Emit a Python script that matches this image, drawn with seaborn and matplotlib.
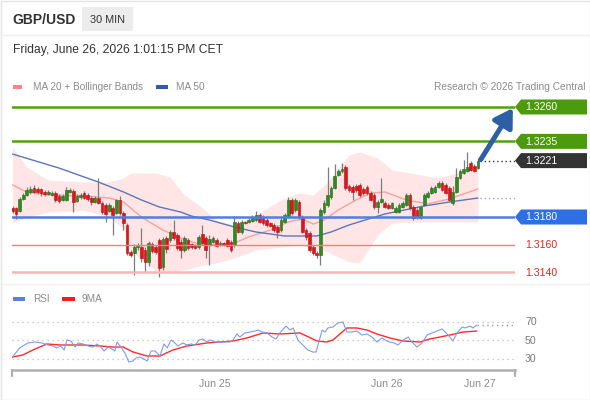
import matplotlib
matplotlib.use("Agg")
import matplotlib.pyplot as plt
from matplotlib.patches import Rectangle, Polygon
import numpy as np
import seaborn as sns

# ---- candle data (30 min GBP/USD) ----
opens = [1.31865, 1.31865, 1.31844, 1.31931, 1.31960, 1.31982, 1.32011, 1.32004, 1.32004, 1.31982,
         1.31967, 1.31960, 1.31974, 1.31953, 1.31924, 1.31924, 1.31982, 1.31989, 1.31916, 1.31945,
         1.31974, 1.31960, 1.31938, 1.31909, 1.31938, 1.31902, 1.31887, 1.31844, 1.31865, 1.31829,
         1.31924, 1.31829, 1.31742, 1.31546, 1.31538, 1.31582, 1.31582, 1.31560, 1.31473, 1.31604,
         1.31582, 1.31633, 1.31436, 1.31647, 1.31633, 1.31691, 1.31669, 1.31618, 1.31560, 1.31633,
         1.31604, 1.31596, 1.31582, 1.31676, 1.31647, 1.31596, 1.31618, 1.31633, 1.31604, 1.31611,
         1.31633, 1.31618, 1.31596, 1.31756, 1.31691, 1.31764, 1.31764, 1.31771, 1.31778, 1.31815,
         1.31800, 1.31778, 1.31756, 1.31742, 1.31727, 1.31705, 1.31764, 1.31800, 1.31924, 1.31851,
         1.31909, 1.31800, 1.31705, 1.31684, 1.31582, 1.31538, 1.31524, 1.31836, 1.31887, 1.31945,
         1.32011, 1.32105, 1.32134, 1.32164, 1.32025, 1.32018, 1.32025, 1.32033, 1.32004, 1.32018,
         1.31974, 1.31960, 1.31873, 1.31909, 1.31902, 1.31887, 1.31865, 1.31836, 1.31836, 1.31873,
         1.31887, 1.31960, 1.31873, 1.31851, 1.31793, 1.31887, 1.31945, 1.31974, 1.31982, 1.32018,
         1.32047, 1.32033, 1.32011, 1.31902, 1.31982, 1.32084, 1.32120, 1.32134, 1.32193, 1.32171,
         1.32156]
highs = [1.31880, 1.31873, 1.31945, 1.31974, 1.32018, 1.32025, 1.32033, 1.32018, 1.32011, 1.31996,
         1.31996, 1.31989, 1.31989, 1.31967, 1.31967, 1.32018, 1.32011, 1.32004, 1.31967, 1.31974,
         1.31989, 1.31974, 1.31953, 1.31953, 1.32084, 1.31916, 1.31902, 1.31902, 1.31880, 1.31931,
         1.31953, 1.31844, 1.31756, 1.31560, 1.31604, 1.31611, 1.31720, 1.31582, 1.31625, 1.31618,
         1.31596, 1.31647, 1.31655, 1.31662, 1.31705, 1.31778, 1.31684, 1.31640, 1.31662, 1.31647,
         1.31611, 1.31604, 1.31669, 1.31742, 1.31662, 1.31669, 1.31662, 1.31647, 1.31625, 1.31618,
         1.31647, 1.31633, 1.31807, 1.31771, 1.31778, 1.31771, 1.31793, 1.31815, 1.31844, 1.31829,
         1.31815, 1.31793, 1.31764, 1.31756, 1.31742, 1.31793, 1.31829, 1.31945, 1.31938, 1.31938,
         1.31924, 1.31815, 1.31720, 1.31698, 1.31596, 1.31553, 1.31865, 1.31924, 1.32164, 1.32025,
         1.32185, 1.32149, 1.32193, 1.32178, 1.32040, 1.32033, 1.32040, 1.32047, 1.32018, 1.32033,
         1.31989, 1.31974, 1.31924, 1.32084, 1.31916, 1.31902, 1.31909, 1.31880, 1.31902, 1.31916,
         1.31974, 1.31974, 1.31887, 1.31865, 1.31887, 1.31974, 1.31989, 1.32025, 1.32033, 1.32062,
         1.32062, 1.32047, 1.32025, 1.32025, 1.32156, 1.32149, 1.32214, 1.32273, 1.32207, 1.32185,
         1.32229]
lows = [1.31829, 1.31785, 1.31836, 1.31924, 1.31953, 1.31967, 1.31974, 1.31967, 1.31953, 1.31953,
        1.31960, 1.31953, 1.31909, 1.31902, 1.31916, 1.31916, 1.31974, 1.31836, 1.31909, 1.31931,
        1.31931, 1.31916, 1.31887, 1.31902, 1.31895, 1.31822, 1.31764, 1.31836, 1.31669, 1.31822,
        1.31815, 1.31705, 1.31524, 1.31509, 1.31378, 1.31560, 1.31473, 1.31400, 1.31444, 1.31538,
        1.31531, 1.31364, 1.31415, 1.31538, 1.31618, 1.31633, 1.31560, 1.31502, 1.31546, 1.31560,
        1.31567, 1.31567, 1.31567, 1.31596, 1.31502, 1.31451, 1.31611, 1.31582, 1.31589, 1.31589,
        1.31582, 1.31546, 1.31582, 1.31684, 1.31676, 1.31749, 1.31756, 1.31764, 1.31771, 1.31756,
        1.31742, 1.31727, 1.31727, 1.31691, 1.31647, 1.31691, 1.31756, 1.31793, 1.31815, 1.31836,
        1.31785, 1.31684, 1.31633, 1.31546, 1.31524, 1.31502, 1.31451, 1.31822, 1.31873, 1.31931,
        1.32004, 1.32098, 1.32120, 1.31996, 1.31982, 1.31924, 1.31982, 1.31945, 1.31960, 1.31960,
        1.31916, 1.31858, 1.31829, 1.31902, 1.31865, 1.31858, 1.31858, 1.31829, 1.31829, 1.31865,
        1.31880, 1.31851, 1.31778, 1.31785, 1.31785, 1.31880, 1.31938, 1.31967, 1.31974, 1.32011,
        1.31989, 1.31967, 1.31916, 1.31887, 1.31974, 1.32076, 1.32113, 1.32127, 1.32134, 1.32127,
        1.32149]
closes = [1.31844, 1.31822, 1.31931, 1.31960, 1.31996, 1.32004, 1.31982, 1.31982, 1.31974, 1.31967,
          1.31982, 1.31974, 1.31924, 1.31916, 1.31953, 1.31996, 1.31996, 1.31909, 1.31953, 1.31960,
          1.31938, 1.31931, 1.31909, 1.31938, 1.31902, 1.31836, 1.31822, 1.31887, 1.31815, 1.31924,
          1.31829, 1.31756, 1.31538, 1.31524, 1.31582, 1.31589, 1.31502, 1.31473, 1.31611, 1.31553,
          1.31546, 1.31429, 1.31640, 1.31567, 1.31691, 1.31647, 1.31575, 1.31560, 1.31647, 1.31575,
          1.31582, 1.31575, 1.31655, 1.31611, 1.31560, 1.31640, 1.31647, 1.31589, 1.31611, 1.31596,
          1.31589, 1.31560, 1.31764, 1.31691, 1.31764, 1.31756, 1.31778, 1.31793, 1.31815, 1.31764,
          1.31756, 1.31742, 1.31735, 1.31705, 1.31691, 1.31778, 1.31815, 1.31924, 1.31829, 1.31924,
          1.31800, 1.31691, 1.31655, 1.31560, 1.31538, 1.31524, 1.31851, 1.31902, 1.31960, 1.32011,
          1.32098, 1.32134, 1.32149, 1.32011, 1.31996, 1.31982, 1.31996, 1.31960, 1.31974, 1.31974,
          1.31924, 1.31873, 1.31909, 1.31931, 1.31873, 1.31865, 1.31902, 1.31865, 1.31887, 1.31902,
          1.31960, 1.31865, 1.31793, 1.31800, 1.31873, 1.31960, 1.31974, 1.32011, 1.32018, 1.32047,
          1.31996, 1.31974, 1.31924, 1.31982, 1.32091, 1.32134, 1.32149, 1.32164, 1.32142, 1.32134,
          1.32210]

# moving averages and bollinger bands (candle index, price)
ma20_idx = [0, 4, 10, 20, 27, 31, 36, 42, 47, 52, 57, 62, 66, 72, 77, 81, 84, 87, 91, 96, 100, 104, 110, 116, 122, 130]
ma20 = [1.32033, 1.31982, 1.31960, 1.31953, 1.31938, 1.31909, 1.31800, 1.31705, 1.31647, 1.31604,
        1.31596, 1.31611, 1.31655, 1.31705, 1.31764, 1.31785, 1.31749, 1.31778, 1.31851, 1.31924,
        1.31974, 1.31982, 1.31924, 1.31895, 1.31931, 1.32004]
ma50_idx = [0, 13, 24, 31, 36, 41, 47, 50, 55, 62, 68, 76, 85, 89, 94, 104, 115, 122, 130]
ma50 = [1.32258, 1.32156, 1.32054, 1.31982, 1.31924, 1.31873, 1.31836, 1.31807, 1.31778, 1.31727,
        1.31691, 1.31662, 1.31662, 1.31691, 1.31742, 1.31822, 1.31880, 1.31909, 1.31938]
bb_idx = [0, 4, 10, 20, 27, 31, 33, 40, 44, 48, 52, 57, 62, 68, 75, 80, 84, 88, 94, 97, 102, 106, 111, 119, 125, 130]
bb_upper = [1.32309, 1.32164, 1.32069, 1.32054, 1.32054, 1.32084, 1.32120, 1.32120, 1.32091, 1.31960,
            1.31887, 1.31778, 1.31742, 1.31815, 1.31924, 1.31974, 1.31960, 1.32054, 1.32251, 1.32273,
            1.32229, 1.32142, 1.32120, 1.32084, 1.32127, 1.32178]
bb_lower = [1.31756, 1.31800, 1.31836, 1.31851, 1.31800, 1.31720, 1.31560, 1.31407, 1.31393, 1.31415,
            1.31444, 1.31466, 1.31502, 1.31560, 1.31582, 1.31596, 1.31575, 1.31546, 1.31473, 1.31466,
            1.31669, 1.31756, 1.31764, 1.31764, 1.31764, 1.31764]

# RSI panel
rsi_idx = [0, 2, 4.3, 6.3, 8.2, 9.9, 11.3, 12.4, 13.5, 14.4, 15.2, 16.3, 17.5, 18.3, 19.7, 21.1, 22.5,
           23.6, 24.4, 25.6, 26.7, 27.8, 28.6, 29.2, 30.3, 31.4, 32.5, 33.7, 34.5, 35.6, 36.7, 37.6,
           38.7, 39.8, 41.2, 42.3, 43.2, 44.3, 45.1, 46.2, 47.6, 48.7, 49.9, 51, 52.1, 53.2, 54.3,
           55.2, 56.6, 58, 59.4, 60.8, 61.6, 62.7, 63.5, 64.9, 66.3, 67.7, 68.6, 69.7, 71.1, 72.5,
           73.6, 74.7, 76.4, 77.5, 78.4, 79.7, 81.1, 82.5, 83.9, 84.8, 86.5, 87.3, 88.1, 89.5, 90.9,
           92.3, 93.4, 94.8, 96.2, 97.6, 99, 100.4, 101.8, 103.2, 104.6, 105.4, 106.6, 107.7, 109.1,
           110.5, 111.6, 113, 114.4, 115.8, 117.2, 118.6, 120, 121.4, 123, 124.2, 125.6, 126.4, 127.8,
           128.6, 129.7]
rsi = [31.6, 41.4, 46.8, 47.8, 46.8, 44.6, 43.5, 41.4, 43.5, 39.2, 50, 48.9, 42.4, 46.8, 45.7, 43.5, 42.4,
       45.7, 43.5, 38.1, 42.4, 40.3, 38.1, 47.8, 42.4, 35.9, 26.2, 27.3, 30.5, 31.6, 29.5, 27.3,
       38.1, 38.1, 32.7, 45.7, 41.4, 50, 47.8, 43.5, 46.8, 44.6, 45.7, 44.6, 50, 51.1, 47.8,
       50, 47.8, 47.8, 47.8, 47.8, 50, 56.5, 53.2, 57.6, 58.6, 59.7, 60.8, 58.6, 57.6, 53.2,
       51.1, 57.6, 65.1, 60.8, 63, 50, 44.6, 39.2, 37, 37, 60.8, 58.6, 63, 64.1, 68.4,
       69.5, 58.6, 58.6, 59.7, 55.4, 56.5, 53.2, 47.8, 52.2, 48.9, 47.8, 46.8, 44.6, 50,
       53.2, 47.8, 42.4, 46.8, 55.4, 57.6, 59.7, 61.9, 56.5, 48.9, 57.6, 64.1, 63, 65.1,
       63, 66.2]
rsi_ma_idx = [0, 2.9, 5.7, 9.6, 13.3, 19.7, 24.4, 28.1, 30.9, 33.7, 37.6, 41.2, 44.8, 48.7, 54.3, 61.6,
              65.5, 70, 74.7, 80.3, 85.1, 87.8, 89.5, 93.4, 96.2, 99, 101.8, 105.4, 109.1, 113.8, 116.6,
              122.2, 125.8, 129.7]
rsi_ma = [31.6, 33.8, 39.2, 45.7, 44.6, 44.6, 43.5, 42.4, 42.4, 37, 32.7, 32.7, 39.2, 43.5, 46.8, 48.9,
          52.2, 57.6, 56.5, 57.6, 48.9, 47.8, 50, 63, 63, 60.8, 56.5, 52.2, 48.9, 47.8, 51.1,
          55.4, 58.6, 59.7]

levels = [1.3260, 1.3235, 1.3221, 1.3180, 1.3160, 1.3140]
level_labels = ["1.3260", "1.3235", "1.3221", "1.3180", "1.3160", "1.3140"]
rsi_ticks = [70, 50, 30]
date_labels = ["Jun 25", "Jun 26", "Jun 27"]
date_pos = [56.6, 104.6, 130.6]

# ---- style ----
sns.set_theme(style="white")
plt.rcParams['font.family'] = ['Liberation Sans', 'DejaVu Sans']

W, H = 590, 400
step = 3.58          # px per candle
x0 = 12.5            # px of first candle
ppu = 13750          # px per price unit
fig = plt.figure(figsize=(W / 100, H / 100), dpi=100)
fig.patch.set_facecolor('white')

n = len(closes)
idx = np.arange(n)
xl = ((12 - x0) / step, (515 - x0) / step)

# main price panel: px y 95..285
ax = fig.add_axes([12 / W, 1 - 285 / H, 503 / W, 190 / H])
ax.set_xlim(*xl)
ax.set_ylim(levels[0] - (285 - 107) / ppu, levels[0] + (107 - 95) / ppu)
ax.axis('off')

ax.fill_between(bb_idx, bb_lower, bb_upper, color='#ffe5e5', lw=0, zorder=1)
sns.lineplot(x=ma20_idx, y=ma20, ax=ax, color='#f7a1a1', linewidth=1, zorder=2)
sns.lineplot(x=ma50_idx, y=ma50, ax=ax, color='#5a78b8', linewidth=1, zorder=2)

o = np.array(opens); c = np.array(closes)
up = c >= o
ax.vlines(idx, lows, highs, color='#7d7d7d', lw=0.9, zorder=3)
ax.bar(idx, np.maximum(np.abs(c - o), 0.00003), bottom=np.minimum(o, c), width=0.75,
       color=np.where(up, '#2f8a22', '#e0141b'), edgecolor=np.where(up, '#1f6a14', '#b50e12'),
       linewidth=0.4, zorder=3)

level_style = {0: ('#52a012', 1.8), 1: ('#52a012', 1.8), 3: ('#4a80e6', 1.8),
               4: ('#ef7f7f', 1.0), 5: ('#ffb3b3', 1.8)}
for k, (col, lw) in level_style.items():
    ax.axhline(levels[k], color=col, lw=lw, zorder=4)

ax.hlines(closes[-1], n - 0.4, xl[1], colors='#333333', linestyles=(0, (1, 2)), lw=1, zorder=4)
ax.hlines(ma50[-1], n - 0.4, xl[1], colors='#8fa3d6', linestyles=(0, (1, 2)), lw=1, zorder=4)
ax.annotate('', xy=(xl[1] - 0.6, levels[0] - 0.00008), xytext=(n - 0.2, closes[-1] + 0.00008),
            arrowprops=dict(arrowstyle='-|>,head_length=0.9,head_width=0.55', lw=3.6,
                            color='#2c5fa3', shrinkA=0, shrinkB=0), zorder=5)

# RSI panel: px y 310..370
r_per_px = 20 / 18.5
rax = fig.add_axes([12 / W, 1 - 370 / H, 503 / W, 60 / H])
rax.set_xlim(*xl)
rax.set_ylim(50 - 30 * r_per_px, 50 + 30 * r_per_px)
for s in ['top', 'left', 'right']:
    rax.spines[s].set_visible(False)
rax.spines['bottom'].set_color('#b0b0b0')
rax.spines['bottom'].set_linewidth(1.8)
rax.set_xticks([]); rax.set_yticks([])
rax.patch.set_alpha(0)
for v in rsi_ticks:
    rax.axhline(v, color='#bdbdbd', lw=0.9, ls=(0, (1, 3)), zorder=1)
sns.lineplot(x=rsi_idx, y=rsi, ax=rax, color='#7e9bee', linewidth=0.8, zorder=3)
sns.lineplot(x=rsi_ma_idx, y=rsi_ma, ax=rax, color='#ff2a2a', linewidth=1.0, zorder=2)
rax.hlines(rsi[-1], rsi_idx[-1], xl[1], colors='#7e9bee', linestyles=(0, (1, 2.5)), lw=1, zorder=3)

# overlay in pixel coordinates for texts and tags
ov = fig.add_axes([0, 0, 1, 1])
ov.set_xlim(0, W); ov.set_ylim(H, 0)
ov.axis('off'); ov.patch.set_alpha(0)

def py(a, v):
    return H - a.transData.transform((0, v))[1]

def px(a, v):
    return a.transData.transform((v, 0))[0]

ov.add_patch(Rectangle((0.5, 0.5), W - 1, H - 1, fill=False, edgecolor='#e4e4e4', lw=1))
ov.plot([0, W], [35, 35], color='#efefef', lw=1)
ov.plot([0, W], [284, 284], color='#f0f0f0', lw=1)

ov.text(12, 24.5, "GBP/USD", fontsize=10, fontweight='bold', color='#333333', va='baseline')
ov.add_patch(Rectangle((82, 7), 51, 24, color='#ececec', lw=0))
ov.text(107.5, 23, "30 MIN", fontsize=7.8, color='#333333', ha='center', va='baseline')
ov.text(13, 53, "Friday, June 26, 2026 1:01:15 PM CET", fontsize=8.7, color='#333333', va='baseline')

ov.add_patch(Rectangle((13, 84.5), 9, 4, color='#ff8484', lw=0))
ov.text(33, 89.5, "MA 20 + Bollinger Bands", fontsize=7.2, color='#8a8a8a', va='baseline')
ov.add_patch(Rectangle((156, 84.5), 12, 4, color='#2f5ea8', lw=0))
ov.text(176, 89.5, "MA 50", fontsize=7.2, color='#8a8a8a', va='baseline')
ov.text(586, 89.5, "Research \u00a9 2026 Trading Central", fontsize=7.3, color='#8a8a8a',
        ha='right', va='baseline')

tag_colors = {0: '#4c9a0e', 1: '#4c9a0e', 2: '#333333', 3: '#2f6fe6'}
for k, col in tag_colors.items():
    yc = py(ax, levels[k])
    ov.add_patch(Polygon([(515, yc), (521, yc - 7.5), (587, yc - 7.5), (587, yc + 7.5), (521, yc + 7.5)],
                         closed=True, color=col, lw=0))
    ov.text(525, yc + 0.5, level_labels[k], fontsize=7.6, color='white', va='center')
for k in [4, 5]:
    ov.text(525, py(ax, levels[k]) + 0.5, level_labels[k], fontsize=7.6, color='#e8231c', va='center')

ov.add_patch(Rectangle((13, 296.5), 12, 4, color='#5b7fe0', lw=0))
ov.text(33, 302, "RSI", fontsize=7.2, color='#8a8a8a', va='baseline')
ov.add_patch(Rectangle((62, 296.5), 13, 4, color='#ff1a1a', lw=0))
ov.text(82, 302, "9MA", fontsize=7.2, color='#8a8a8a', va='baseline')

for v in rsi_ticks:
    ov.text(525, py(rax, v) + 0.5, str(v), fontsize=7.6, color='#7a7a7a', va='center')
for lbl, pos in zip(date_labels, date_pos):
    ov.text(px(rax, pos), 387, lbl, fontsize=7.6, color='#8a8a8a', ha='center', va='baseline')
for xe in xl:
    xp = px(rax, xe)
    ov.plot([xp, xp], [370, 376], color='#b0b0b0', lw=1.6)

fig.savefig('out.png', dpi=100)
